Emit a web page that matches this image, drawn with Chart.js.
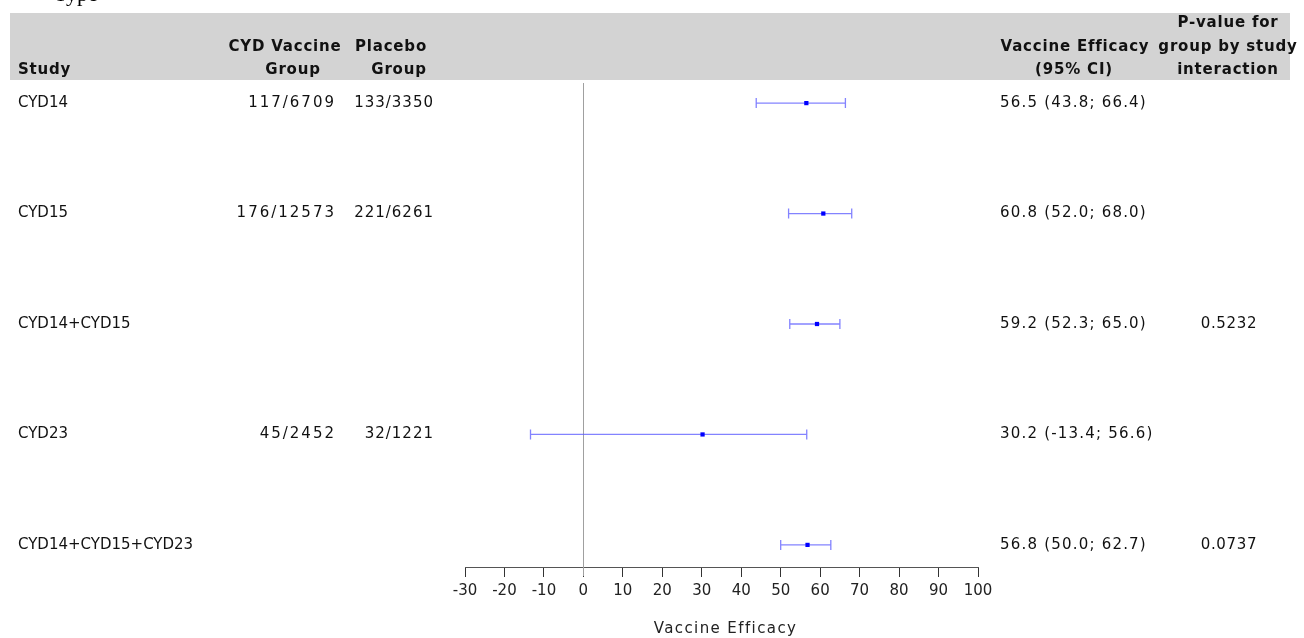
<!DOCTYPE html>
<html><head><meta charset="utf-8">
<script src="https://cdn.jsdelivr.net/npm/chart.js@4/dist/chart.umd.min.js"></script>
<style>html,body{margin:0;padding:0;background:#fff;overflow:hidden}</style>
</head><body>
<canvas id="c" width="1304" height="638"></canvas>
<script>
const studies = ['CYD14', 'CYD15', 'CYD14+CYD15', 'CYD23', 'CYD14+CYD15+CYD23'];
const vaccineGroup = ['117/6709', '176/12573', '', '45/2452', ''];
const placeboGroup = ['133/3350', '221/6261', '', '32/1221', ''];
const efficacy = [56.5, 60.8, 59.2, 30.2, 56.8];
const lowerCI = [43.8, 52.0, 52.3, -13.4, 50.0];
const upperCI = [66.4, 68.0, 65.0, 56.6, 62.7];
const pValues = ['', '', '0.5232', '', '0.0737'];
const xTickValues = [-30, -20, -10, 0, 10, 20, 30, 40, 50, 60, 70, 80, 90, 100];
const xAxisTitle = 'Vaccine Efficacy';

const FONT = '"DejaVu Sans", Verdana, sans-serif';
const fmt = v => v.toFixed(1);
const ciLabels = efficacy.map((v, i) => `${fmt(v)} (${fmt(lowerCI[i])}; ${fmt(upperCI[i])})`);

const forestPlugin = {
  id: 'forest',
  beforeDraw(chart) {
    const ctx = chart.ctx;
    ctx.save();
    ctx.fillStyle = '#fff';
    ctx.fillRect(0, 0, chart.width, chart.height);
    ctx.fillStyle = '#000';
    ctx.font = '22px "Liberation Serif", serif';
    ctx.textBaseline = 'alphabetic';
    ctx.textAlign = 'left';
    ctx.fillText('Type', 54, 1);
    ctx.fillStyle = '#d3d3d3';
    ctx.fillRect(10, 13, 1280, 67);
    ctx.restore();
  },
  beforeDatasetsDraw(chart) {
    const ctx = chart.ctx, xs = chart.scales.x, ys = chart.scales.y, a = chart.chartArea;
    ctx.save();
    const x0 = Math.round(xs.getPixelForValue(0)) + 0.5;
    ctx.strokeStyle = '#a0a0a0';
    ctx.lineWidth = 1;
    ctx.beginPath();
    ctx.moveTo(x0, a.top + 2);
    ctx.lineTo(x0, a.bottom + 9);
    ctx.stroke();
    ctx.strokeStyle = 'rgba(90,90,255,0.75)';
    ctx.lineWidth = 1.3;
    for (let i = 0; i < efficacy.length; i++) {
      const y = ys.getPixelForValue(i);
      const xl = xs.getPixelForValue(lowerCI[i]);
      const xu = xs.getPixelForValue(upperCI[i]);
      ctx.beginPath();
      ctx.moveTo(xl, y); ctx.lineTo(xu, y);
      ctx.moveTo(xl, y - 5); ctx.lineTo(xl, y + 5);
      ctx.moveTo(xu, y - 5); ctx.lineTo(xu, y + 5);
      ctx.stroke();
    }
    ctx.restore();
  },
  afterDraw(chart) {
    const ctx = chart.ctx, xs = chart.scales.x, ys = chart.scales.y;
    ctx.save();
    ctx.fillStyle = '#111';
    ctx.textBaseline = 'middle';
    ctx.font = 'bold 15px ' + FONT;
    ctx.letterSpacing = '0.8px';
    const hdr = (t, x, y, al) => { ctx.textAlign = al; ctx.fillText(t, x, y); };
    hdr('Study', 18, 70, 'left');
    hdr('CYD Vaccine', 285, 47, 'center');
    hdr('Group', 293, 70, 'center');
    hdr('Placebo', 391, 47, 'center');
    hdr('Group', 399, 70, 'center');
    hdr('Vaccine Efficacy', 1075, 47, 'center');
    hdr('(95% CI)', 1074, 70, 'center');
    hdr('P-value for', 1228, 23, 'center');
    hdr('group by study', 1228, 47, 'center');
    hdr('interaction', 1228, 70, 'center');
    ctx.font = '15px ' + FONT;
    for (let i = 0; i < studies.length; i++) {
      const y = ys.getPixelForValue(i);
      ctx.letterSpacing = '0px';
      ctx.textAlign = 'left';
      ctx.fillText(studies[i], 18, y);
      ctx.letterSpacing = '2px';
      ctx.textAlign = 'right';
      ctx.fillText(vaccineGroup[i], 336, y);
      ctx.letterSpacing = '1px';
      ctx.fillText(placeboGroup[i], 434, y);
      ctx.letterSpacing = '1.2px';
      ctx.textAlign = 'left';
      ctx.fillText(ciLabels[i], 1000, y);
      ctx.letterSpacing = '0.7px';
      ctx.textAlign = 'center';
      ctx.fillText(pValues[i], 1229, y);
    }
    ctx.fillStyle = '#222';
    ctx.font = '15px ' + FONT;
    ctx.letterSpacing = '1.4px';
    ctx.textAlign = 'center';
    ctx.fillText(xAxisTitle, (xs.left + xs.right) / 2 + 4, 629);
    ctx.restore();
  }
};

new Chart(document.getElementById('c'), {
  type: 'scatter',
  data: {
    datasets: [{
      data: efficacy.map((v, i) => ({ x: v, y: i })),
      backgroundColor: '#0000ff',
      borderColor: '#0000ff',
      pointStyle: 'rect',
      pointRadius: 3,
      borderWidth: 0
    }]
  },
  options: {
    responsive: false,
    animation: false,
    devicePixelRatio: 1,
    layout: { padding: { left: 465, right: 326, top: 81, bottom: 0 } },
    plugins: { legend: { display: false }, tooltip: { enabled: false } },
    scales: {
      x: {
        type: 'linear', min: -30, max: 100,
        afterBuildTicks: s => { s.ticks = xTickValues.map(v => ({ value: v })); },
        afterFit: s => { s.height = 71; },
        ticks: { color: '#222', font: { family: FONT, size: 15 }, padding: 5, maxRotation: 0, autoSkip: false },
        grid: { drawOnChartArea: false, drawTicks: true, tickLength: 10, color: '#333' },
        border: { display: true, color: '#555', width: 1 },
        title: { display: false }
      },
      y: { type: 'linear', min: -0.2, max: 4.2, reverse: true, display: false }
    }
  },
  plugins: [forestPlugin]
});
</script>
</body></html>
